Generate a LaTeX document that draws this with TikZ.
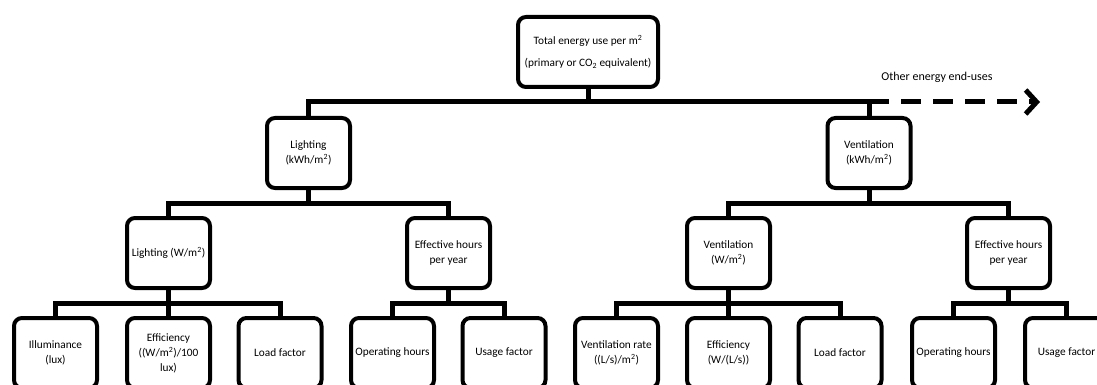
\documentclass[tikz,border=0pt]{standalone}
\usepackage{fontspec}
\setmainfont{Carlito}
\usetikzlibrary{arrows.meta}
\tikzset{
  box/.style={draw=black, line width=4pt, rounded corners=8pt, fill=white,
    minimum width=83pt, minimum height=70pt, align=center, inner sep=1pt,
    font=\fontsize{11.3}{15}\selectfont},
  conn/.style={draw=black, line width=5pt},
  lbl/.style={font=\fontsize{12}{14}\selectfont, inner sep=0pt}
}
\begin{document}
\begin{tikzpicture}[x=1pt,y=-1pt]
\useasboundingbox (0,0) rectangle (1097,385);
\clip (0,0) rectangle (1097,385);
% top
\node[box, minimum width=140pt, font=\fontsize{11.3}{22}\selectfont] (T) at (588,52) {Total energy use per m\textsuperscript{2}\\(primary or CO\textsubscript{2} equivalent)};
% level 1
\node[box] (LK) at (308.5,153) {Lighting\\(kWh/m\textsuperscript{2})};
\node[box] (VK) at (869,153) {Ventilation\\(kWh/m\textsuperscript{2})};
% level 2
\node[box] (LW) at (168.5,253) {Lighting (W/m\textsuperscript{2})};
\node[box] (EHL) at (448.5,253) {Effective hours\\per year};
\node[box] (VW) at (728.5,253) {Ventilation\\(W/m\textsuperscript{2})};
\node[box] (EHR) at (1008.5,253) {Effective hours\\per year};
% level 3
\node[box] (IL) at (55.5,353) {Illuminance\\(lux)};
\node[box] (EF) at (168.5,353) {Efficiency\\((W/m\textsuperscript{2})/100\\lux)};
\node[box] (LF) at (280,353) {Load factor};
\node[box] (OH) at (392.5,353) {Operating hours};
\node[box] (UF) at (504,353) {Usage factor};
\node[box] (VR) at (616.5,353) {Ventilation rate\\((L/s)/m\textsuperscript{2})};
\node[box] (EF2) at (728.5,353) {Efficiency\\(W/(L/s))};
\node[box] (LF2) at (840,353) {Load factor};
\node[box] (OH2) at (953.5,353) {Operating hours};
\node[box] (UF2) at (1066.5,353) {Usage factor};
% bar levels
\coordinate (b0) at (0,102);
\coordinate (b1) at (0,203);
\coordinate (b2) at (0,303);
\coordinate (arrowend) at (1040,102);
% connectors
\draw[conn] (T.south) -- (T.south |- b0) -| (LK.north);
\draw[conn] (T.south) -- (T.south |- b0) -| (VK.north);
\draw[conn] (LK.south) -- (LK.south |- b1) -| (LW.north);
\draw[conn] (LK.south) -- (LK.south |- b1) -| (EHL.north);
\draw[conn] (VK.south) -- (VK.south |- b1) -| (VW.north);
\draw[conn] (VK.south) -- (VK.south |- b1) -| (EHR.north);
\draw[conn] (LW.south) -- (LW.south |- b2) -| (IL.north);
\draw[conn] (LW.south) -- (EF.north);
\draw[conn] (LW.south) -- (LW.south |- b2) -| (LF.north);
\draw[conn] (EHL.south) -- (EHL.south |- b2) -| (OH.north);
\draw[conn] (EHL.south) -- (EHL.south |- b2) -| (UF.north);
\draw[conn] (VW.south) -- (VW.south |- b2) -| (VR.north);
\draw[conn] (VW.south) -- (EF2.north);
\draw[conn] (VW.south) -- (VW.south |- b2) -| (LF2.north);
\draw[conn] (EHR.south) -- (EHR.south |- b2) -| (OH2.north);
\draw[conn] (EHR.south) -- (EHR.south |- b2) -| (UF2.north);
% other end-uses
\draw[conn, dash pattern=on 20pt off 12pt, -{Straight Barb[length=11pt,width=24pt,line width=5pt]}] (VK.north |- b0) -- (arrowend);
\node[lbl] (OE) at (937,77) {Other energy end-uses};
\end{tikzpicture}
\end{document}
